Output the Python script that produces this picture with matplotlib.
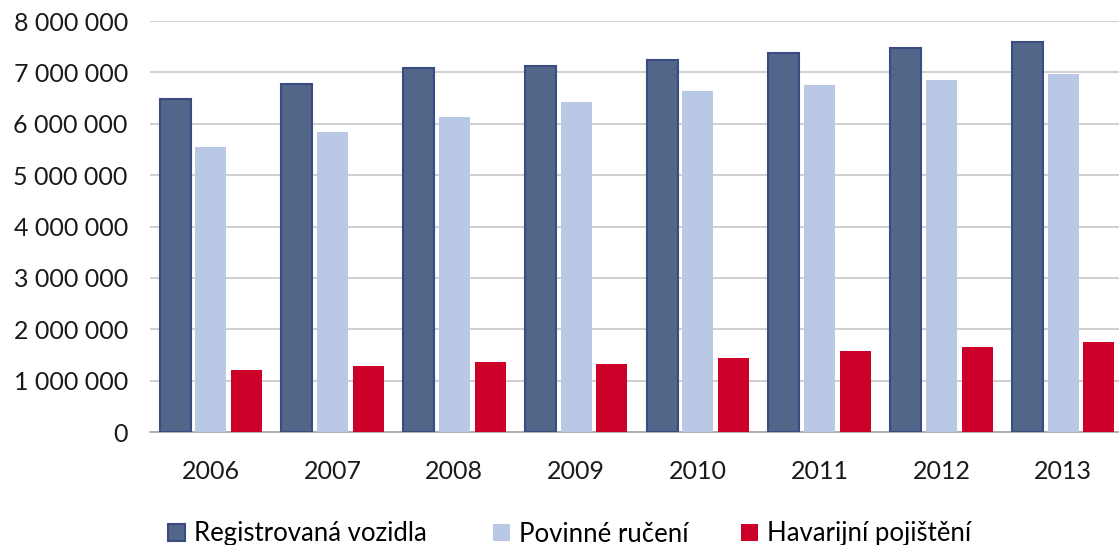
import matplotlib
matplotlib.use("Agg")
import matplotlib.pyplot as plt
import numpy as np
from matplotlib.ticker import FuncFormatter

plt.rcParams['font.family'] = ['Lato', 'DejaVu Sans']

years = ["2006", "2007", "2008", "2009", "2010", "2011", "2012", "2013"]
registrovana = [6480000, 6780000, 7080000, 7120000, 7250000, 7380000, 7470000, 7590000]
povinne = [5540000, 5840000, 6130000, 6420000, 6630000, 6750000, 6850000, 6970000]
havarijni = [1200000, 1280000, 1360000, 1320000, 1450000, 1580000, 1660000, 1750000]
labels = ["Registrovaná vozidla", "Povinné ručení", "Havarijní pojištění"]

fig = plt.figure(figsize=(11.19, 5.45), dpi=100)
ax = fig.add_axes([150 / 1119, 1 - 432 / 545, 974 / 1119, 411 / 545])

x = np.arange(len(years))
w = 0.255
off = 0.293
b1 = ax.bar(x - off, registrovana, w, color="#526689", edgecolor="#3B4C82", linewidth=1.5, zorder=3)
b2 = ax.bar(x, povinne, w, color="#B9C8E5", zorder=3)
b3 = ax.bar(x + off, havarijni, w, color="#CC0029", zorder=3)

ax.set_xlim(-0.5, len(years) - 0.5)
ax.set_ylim(0, 8000000)
ax.set_yticks(np.arange(0, 8000001, 1000000))
ax.yaxis.set_major_formatter(FuncFormatter(lambda v, p: f"{int(v):,}".replace(",", " ")))
ax.set_xticks(x)
ax.set_xticklabels(years)
ax.grid(axis="y", color="#C8C8C8", linewidth=1.2, zorder=0)
for s in ["top", "right", "left"]:
    ax.spines[s].set_visible(False)
ax.spines["bottom"].set_color("#A6A6A6")
ax.spines["bottom"].set_linewidth(1.2)
ax.tick_params(axis="both", length=0, labelsize=18, colors="#1a1a1a")
ax.tick_params(axis="y", pad=16)
ax.tick_params(axis="x", pad=20)

# legend entries placed one by one (Excel-like spacing)
for h, lab, xpos in zip([b1, b2, b3], labels, [168, 493, 741]):
    leg = fig.legend([h], [lab], loc="center left", bbox_to_anchor=(xpos / 1119, 1 - 534 / 545),
                     frameon=False, fontsize=18.5, handlelength=0.68, handleheight=0.68,
                     handletextpad=0.35, borderpad=0, borderaxespad=0)

fig.savefig("out.png", dpi=100)
